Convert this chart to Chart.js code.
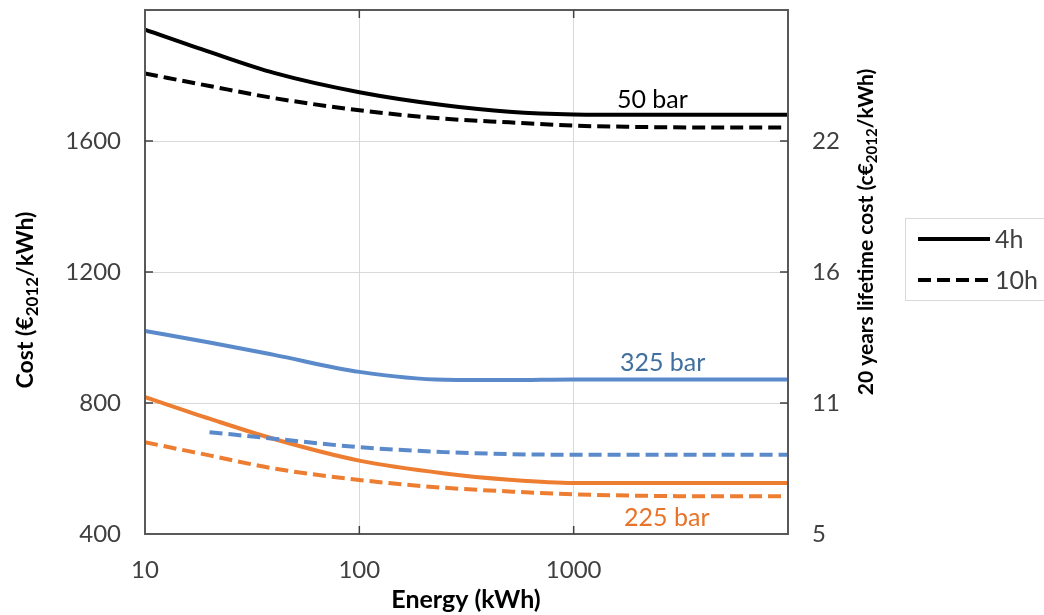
<!DOCTYPE html>
<html>
<head>
<meta charset="utf-8">
<script src="https://cdn.jsdelivr.net/npm/chart.js@4.4.1/dist/chart.umd.min.js"></script>
<style>
  html, body { margin: 0; padding: 0; background: #fff; }
  #wrap { width: 1044px; height: 615px; position: relative; }
</style>
</head>
<body>
<div id="wrap"><canvas id="chart"></canvas></div>
<script>
// energy (kWh) at which each curve was read
const energy = [10, 20, 40, 100, 250, 500, 1000, 2000, 5000, 10000]

// cost in EUR2012/kWh
const bar50_4h   = [1940, 1872, 1808, 1749, 1709, 1689, 1681, 1680, 1680, 1680]
const bar50_10h  = [1806, 1768, 1731, 1694, 1668, 1657, 1647, 1643, 1641, 1641]
const bar325_4h  = [1020, 985, 947, 895, 871, 870, 872, 872, 872, 872]
const bar325_10h = [null, 711, 691, 665, 650, 644, 642, 642, 642, 642]
const bar225_4h  = [818, 752, 690, 624, 585, 566, 556, 556, 556, 556]
const bar225_10h = [680, 640, 600, 565, 541, 530, 521, 517, 515, 515]

const xTicks = [10, 100, 1000, 10000]
const leftTicks = [400, 800, 1200, 1600]
const leftTickLabels = ['400', '800', '1200', '1600']
const rightTickLabels = ['5', '11', '16', '22']

const legendLabels = ['4h', '10h']
const seriesNames = ['50 bar', '325 bar', '225 bar']
const nameEnergy = [2330, 2600, 2720]
const nameCost = [1726, 921, 450]

const BLACK = '#000000'
const BLUE = '#5B8ACB'
const ORANGE = '#ED7D31'
const nameColors = ['#000000', '#41709F', '#E8732A']
const DASH = [13, 6]
const FONT = 'Lato, "Open Sans", sans-serif'
const TICK_SIZE = 24

function pts(vals) {
    return energy.map((e, i) => ({x: e, y: vals[i]})).filter(p => p.y !== null)
}

function line(label, vals, color, dashed) {
    return {
        label: label,
        data: pts(vals),
        borderColor: color,
        backgroundColor: color,
        borderWidth: 4,
        borderDash: dashed ? DASH : [],
        pointRadius: 0,
        cubicInterpolationMode: 'monotone',
        fill: false
    }
}

// text with a subscript part, optionally rotated
function drawRich(ctx, parts, x, y, rot, size) {
    ctx.save()
    ctx.translate(x, y)
    ctx.rotate(rot)
    const big = 'bold ' + size + 'px ' + FONT
    const small = 'bold ' + Math.round(size * 0.72) + 'px ' + FONT
    let total = 0
    parts.forEach(p => {
        ctx.font = p.sub ? small : big
        total += ctx.measureText(p.t).width
    })
    let cx = -total / 2
    ctx.fillStyle = '#000'
    ctx.textBaseline = 'middle'
    ctx.textAlign = 'left'
    parts.forEach(p => {
        ctx.font = p.sub ? small : big
        ctx.fillText(p.t, cx, p.sub ? size * 0.28 : 0)
        cx += ctx.measureText(p.t).width
    })
    ctx.restore()
}

// vertical axes add tick padding above the top label; drop it
function noVPad(s) {
    s.paddingTop = 0
    s.paddingBottom = 0
}

const decor = {
    id: 'decor',
    afterDatasetsDraw(chart) {
        const ctx = chart.ctx
        const a = chart.chartArea
        const xs = chart.scales.x
        const ys = chart.scales.y

        // frame
        ctx.save()
        ctx.strokeStyle = '#595959'
        ctx.lineWidth = 2
        ctx.strokeRect(a.left, a.top, a.right - a.left, a.bottom - a.top)

        // inside tick marks
        ctx.lineWidth = 1.5
        ctx.strokeStyle = '#404040'
        ctx.beginPath()
        leftTicks.slice(1).forEach(v => {
            const py = ys.getPixelForValue(v)
            ctx.moveTo(a.left, py); ctx.lineTo(a.left + 8, py)
            ctx.moveTo(a.right, py); ctx.lineTo(a.right - 8, py)
        })
        xTicks.slice(1, 3).forEach(v => {
            const px = xs.getPixelForValue(v)
            ctx.moveTo(px, a.top); ctx.lineTo(px, a.top + 8)
            ctx.moveTo(px, a.bottom); ctx.lineTo(px, a.bottom - 8)
        })
        ctx.stroke()

        // series names
        ctx.font = '25px ' + FONT
        ctx.textAlign = 'center'
        ctx.textBaseline = 'middle'
        seriesNames.forEach((n, i) => {
            ctx.fillStyle = nameColors[i]
            ctx.fillText(n, xs.getPixelForValue(nameEnergy[i]), ys.getPixelForValue(nameCost[i]))
        })
        ctx.restore()

        // axis titles
        drawRich(ctx, [{t: 'Cost (€'}, {t: '2012', sub: true}, {t: '/kWh)'}], 26, 300, -Math.PI / 2, 23)
        drawRich(ctx, [{t: '20 years lifetime cost (c€'}, {t: '2012', sub: true}, {t: '/kWh)'}], 866, 232, -Math.PI / 2, 21)
        drawRich(ctx, [{t: 'Energy (kWh)'}], 466, 600, 0, 25)

        // legend
        ctx.save()
        ctx.strokeStyle = '#D9D9D9'
        ctx.lineWidth = 1
        ctx.strokeRect(905.5, 218.5, 150, 82)
        ctx.lineWidth = 4
        ctx.strokeStyle = BLACK
        ctx.font = '25px ' + FONT
        ctx.fillStyle = '#404040'
        ctx.textAlign = 'left'
        ctx.textBaseline = 'middle'
        legendLabels.forEach((l, i) => {
            const ly = 239 + i * 41
            ctx.setLineDash(i === 0 ? [] : [13, 6])
            ctx.beginPath()
            ctx.moveTo(918, ly); ctx.lineTo(990, ly)
            ctx.stroke()
            ctx.fillText(l, 995, ly + 1)
        })
        ctx.restore()
    }
}

new Chart(document.getElementById('chart'), {
    type: 'line',
    data: {
        datasets: [
            line('50 bar 4h', bar50_4h, BLACK, false),
            line('50 bar 10h', bar50_10h, BLACK, true),
            line('325 bar 4h', bar325_4h, BLUE, false),
            line('325 bar 10h', bar325_10h, BLUE, true),
            line('225 bar 4h', bar225_4h, ORANGE, false),
            line('225 bar 10h', bar225_10h, ORANGE, true)
        ]
    },
    options: {
        responsive: true,
        maintainAspectRatio: false,
        animation: false,
        layout: {padding: {top: 10, left: 0, right: 0, bottom: 0}},
        plugins: {legend: {display: false}, tooltip: {enabled: false}},
        scales: {
            x: {
                type: 'logarithmic',
                min: 10,
                max: 10000,
                afterBuildTicks: s => { s.ticks = xTicks.map(v => ({value: v})) },
                afterFit: s => { s.height = 81 },
                grid: {color: '#D9D9D9', lineWidth: 1, drawTicks: false},
                border: {display: false},
                ticks: {
                    padding: 22,
                    color: '#404040',
                    font: {family: FONT, size: TICK_SIZE},
                    maxRotation: 0,
                    callback: v => (v === 10000 ? '' : String(v))
                }
            },
            y: {
                min: 400,
                max: 2000,
                afterBuildTicks: s => { s.ticks = leftTicks.map(v => ({value: v})) },
                afterFit: s => { s.width = 145; noVPad(s) },
                grid: {color: '#D9D9D9', lineWidth: 1, drawTicks: false},
                border: {display: false},
                ticks: {
                    padding: 24,
                    color: '#404040',
                    font: {family: FONT, size: TICK_SIZE},
                    callback: (v) => leftTickLabels[leftTicks.indexOf(v)]
                }
            },
            y2: {
                position: 'right',
                min: 400,
                max: 2000,
                afterBuildTicks: s => { s.ticks = leftTicks.map(v => ({value: v})) },
                afterFit: s => { s.width = 256; noVPad(s) },
                grid: {display: false, drawTicks: false},
                border: {display: false},
                ticks: {
                    padding: 24,
                    color: '#404040',
                    font: {family: FONT, size: TICK_SIZE},
                    callback: (v) => rightTickLabels[leftTicks.indexOf(v)]
                }
            }
        }
    },
    plugins: [decor]
})
</script>
</body>
</html>
